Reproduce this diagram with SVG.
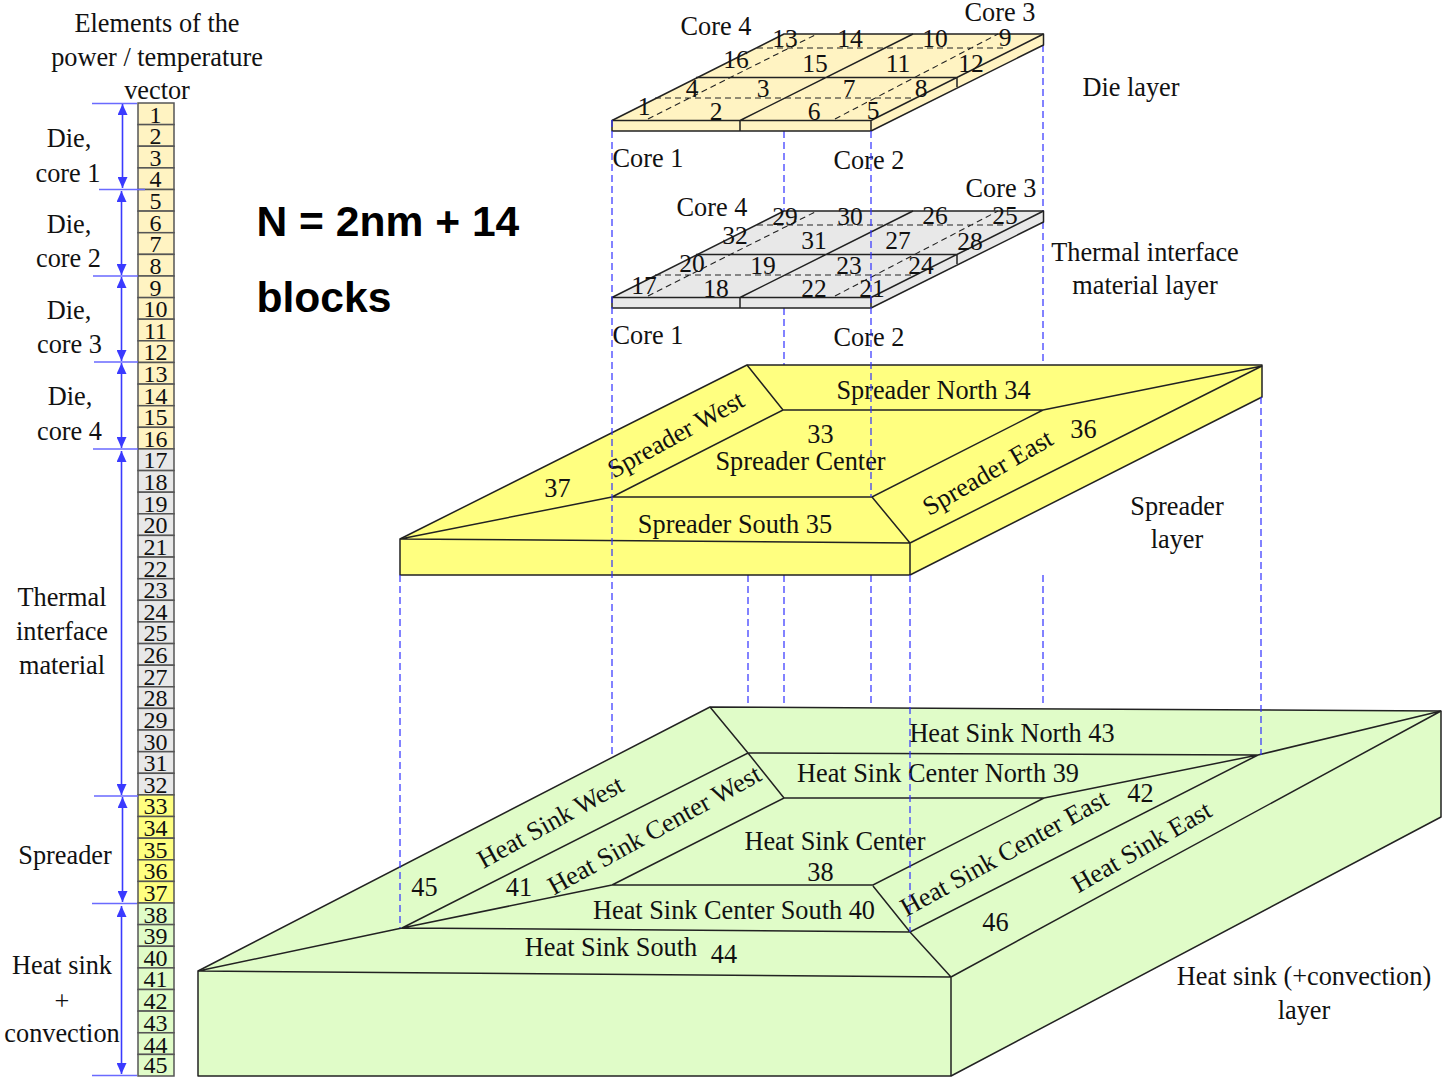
<svg xmlns="http://www.w3.org/2000/svg" width="1442" height="1078" viewBox="0 0 1442 1078">
<style>
text{font-family:"Liberation Serif","Times New Roman",serif;font-size:26.300px;fill:#111;text-anchor:middle}
.t{font-family:"Liberation Sans",Arial,sans-serif;font-size:42.600px;font-weight:bold;fill:#000;text-anchor:start}
.n{font-size:24px}
.p{font-size:25.500px}
.s{stroke:#222;stroke-width:1.5;stroke-linejoin:round}
.l{fill:none;stroke:#222;stroke-width:1.5}
.d{fill:none;stroke:#222;stroke-width:1.1;stroke-dasharray:6 4}
.b{fill:none;stroke:#3030ff;stroke-width:1.2;stroke-dasharray:7 4}
.a{stroke:#3a3aff;stroke-width:1.6;fill:none;marker-start:url(#au);marker-end:url(#ad)}
.k{stroke:#6a6aff;stroke-width:1.5;fill:none}
.die{fill:#fff3c2}.tim{fill:#e8e8e8}.spr{fill:#ffff80}.hs{fill:#e0fcc8}
.c{stroke:#555;stroke-width:1.5}
</style>
<defs>
<marker id="ad" markerUnits="userSpaceOnUse" markerWidth="10" markerHeight="11" refX="5" refY="11" orient="0"><path d="M0 0H10L5 11Z" fill="#3a3aff"/></marker>
<marker id="au" markerUnits="userSpaceOnUse" markerWidth="10" markerHeight="11" refX="5" refY="0" orient="0"><path d="M5 0L10 11H0Z" fill="#3a3aff"/></marker>
</defs>

<g id="title"><text class="t" x="256.500" y="236">N = 2nm + 14</text><text class="t" x="256.500" y="312">blocks</text></g>

<g id="vector">
<text x="157" y="32">Elements of the</text><text x="157" y="66">power / temperature</text><text x="157" y="99">vector</text>
<g class="c">
<rect class="die" x="138" y="103" width="36" height="21.6"/><rect class="die" x="138" y="124.6" width="36" height="21.6"/><rect class="die" x="138" y="146.2" width="36" height="21.6"/><rect class="die" x="138" y="167.9" width="36" height="21.6"/><rect class="die" x="138" y="189.5" width="36" height="21.6"/><rect class="die" x="138" y="211.1" width="36" height="21.6"/><rect class="die" x="138" y="232.7" width="36" height="21.6"/><rect class="die" x="138" y="254.4" width="36" height="21.6"/><rect class="die" x="138" y="276" width="36" height="21.6"/><rect class="die" x="138" y="297.6" width="36" height="21.6"/><rect class="die" x="138" y="319.2" width="36" height="21.6"/><rect class="die" x="138" y="340.8" width="36" height="21.6"/><rect class="die" x="138" y="362.5" width="36" height="21.6"/><rect class="die" x="138" y="384.1" width="36" height="21.6"/><rect class="die" x="138" y="405.7" width="36" height="21.6"/><rect class="die" x="138" y="427.3" width="36" height="21.6"/>
<rect class="tim" x="138" y="448.9" width="36" height="21.6"/><rect class="tim" x="138" y="470.6" width="36" height="21.6"/><rect class="tim" x="138" y="492.2" width="36" height="21.6"/><rect class="tim" x="138" y="513.8" width="36" height="21.6"/><rect class="tim" x="138" y="535.4" width="36" height="21.6"/><rect class="tim" x="138" y="557.1" width="36" height="21.6"/><rect class="tim" x="138" y="578.7" width="36" height="21.6"/><rect class="tim" x="138" y="600.3" width="36" height="21.6"/><rect class="tim" x="138" y="621.9" width="36" height="21.6"/><rect class="tim" x="138" y="643.6" width="36" height="21.6"/><rect class="tim" x="138" y="665.2" width="36" height="21.6"/><rect class="tim" x="138" y="686.8" width="36" height="21.6"/><rect class="tim" x="138" y="708.4" width="36" height="21.6"/><rect class="tim" x="138" y="730" width="36" height="21.6"/><rect class="tim" x="138" y="751.7" width="36" height="21.6"/><rect class="tim" x="138" y="773.3" width="36" height="21.6"/>
<rect class="spr" x="138" y="794.9" width="36" height="21.6"/><rect class="spr" x="138" y="816.5" width="36" height="21.6"/><rect class="spr" x="138" y="838.2" width="36" height="21.6"/><rect class="spr" x="138" y="859.8" width="36" height="21.6"/><rect class="spr" x="138" y="881.4" width="36" height="21.6"/>
<rect class="hs" x="138" y="903" width="36" height="21.6"/><rect class="hs" x="138" y="924.6" width="36" height="21.6"/><rect class="hs" x="138" y="946.3" width="36" height="21.6"/><rect class="hs" x="138" y="967.9" width="36" height="21.6"/><rect class="hs" x="138" y="989.5" width="36" height="21.6"/><rect class="hs" x="138" y="1011.1" width="36" height="21.6"/><rect class="hs" x="138" y="1032.8" width="36" height="21.6"/><rect class="hs" x="138" y="1054.4" width="36" height="21.6"/>
</g>
<g>
<text class="n" x="155.500" y="122.5">1</text><text class="n" x="155.500" y="144.1">2</text><text class="n" x="155.500" y="165.7">3</text><text class="n" x="155.500" y="187.4">4</text><text class="n" x="155.500" y="209">5</text><text class="n" x="155.500" y="230.6">6</text><text class="n" x="155.500" y="252.2">7</text><text class="n" x="155.500" y="273.9">8</text><text class="n" x="155.500" y="295.500">9</text><text class="n" x="155.500" y="317.1">10</text><text class="n" x="155.500" y="338.7">11</text><text class="n" x="155.500" y="360.3">12</text><text class="n" x="155.500" y="382">13</text><text class="n" x="155.500" y="403.6">14</text><text class="n" x="155.500" y="425.2">15</text><text class="n" x="155.500" y="446.8">16</text><text class="n" x="155.500" y="468.4">17</text><text class="n" x="155.500" y="490.1">18</text><text class="n" x="155.500" y="511.7">19</text><text class="n" x="155.500" y="533.3">20</text><text class="n" x="155.500" y="554.9">21</text><text class="n" x="155.500" y="576.6">22</text><text class="n" x="155.500" y="598.2">23</text><text class="n" x="155.500" y="619.8">24</text><text class="n" x="155.500" y="641.4">25</text><text class="n" x="155.500" y="663.1">26</text><text class="n" x="155.500" y="684.7">27</text><text class="n" x="155.500" y="706.3">28</text><text class="n" x="155.500" y="727.9">29</text><text class="n" x="155.500" y="749.5">30</text><text class="n" x="155.500" y="771.2">31</text><text class="n" x="155.500" y="792.8">32</text><text class="n" x="155.500" y="814.4">33</text><text class="n" x="155.500" y="836">34</text><text class="n" x="155.500" y="857.7">35</text><text class="n" x="155.500" y="879.3">36</text><text class="n" x="155.500" y="900.9">37</text><text class="n" x="155.500" y="922.5">38</text><text class="n" x="155.500" y="944.1">39</text><text class="n" x="155.500" y="965.8">40</text><text class="n" x="155.500" y="987.4">41</text><text class="n" x="155.500" y="1009">42</text><text class="n" x="155.500" y="1030.6">43</text><text class="n" x="155.500" y="1052.8">44</text><text class="n" x="155.500" y="1072.5">45</text>
</g>
<text x="69" y="147">Die,</text><text x="68" y="182">core 1</text>
<text x="69" y="233">Die,</text><text x="68.500" y="267">core 2</text>
<text x="69" y="319">Die,</text><text x="69.500" y="353">core 3</text>
<text x="70" y="405">Die,</text><text x="69.500" y="440">core 4</text>
<text x="62" y="606">Thermal</text><text x="62" y="640">interface</text><text x="62" y="674">material</text>
<text x="65" y="864">Spreader</text>
<text x="62" y="974">Heat sink</text><text x="62" y="1010">+</text><text x="62" y="1042">convection</text>
</g>

<g id="ranges">
<path class="k" d="M92 103.500H137M99 189.500H145M93 276H138M94 362H138M93 449H138M94 796H138M92 903.500H137M92 1075.500H137"/>
<path class="a" d="M122.500 104V188"/><path class="a" d="M121.500 191V275"/><path class="a" d="M121.500 277V361"/><path class="a" d="M121.500 363V448"/><path class="a" d="M121.500 451V795"/><path class="a" d="M122.500 797V902"/><path class="a" d="M121.500 906V1074"/>
</g>

<g id="connectors-back">
<path class="b" d="M784 131V211M784 308V365M1043 45V211M1043 222V410M748 575V707M784 575V707M871 575V707M1043 575V707"/>
</g>

<g id="heat-sink-layer">
<path class="hs s" d="M198 971L710 707L1441 711V817L951 1076H198Z"/>
<path class="l" d="M198 971L951 977V1076M951 977L1441 711M710 707L748 753M910 932L951 977M198 971L402 928M1258 755L1441 711M402 928L910 932L1258 755L748 753ZM402 928L612 885M784 798L748 753M873 886L910 932M1044 798L1258 755M612 885H873L1044 798H784Z"/>
<text x="1012" y="742">Heat Sink North 43</text>
<text x="938" y="782">Heat Sink Center North 39</text>
<text x="835" y="850">Heat Sink Center</text><text x="820.500" y="881">38</text>
<text x="734" y="919">Heat Sink Center South 40</text>
<text x="611" y="956">Heat Sink South</text><text x="724" y="963">44</text>
<text x="424.500" y="896">45</text><text x="519" y="896">41</text><text x="1140.500" y="802">42</text><text x="995.500" y="931">46</text>
<text transform="translate(554.500 829.500) rotate(-29)">Heat Sink West</text>
<text transform="translate(658.500 837.500) rotate(-29)">Heat Sink Center West</text>
<text transform="translate(1008.500 860.500) rotate(-29)">Heat Sink Center East</text>
<text transform="translate(1146 854.500) rotate(-30)">Heat Sink East</text>
</g>

<g id="spreader-layer">
<path class="spr s" d="M400 539L747 365H1262V397L910 575H400Z"/>
<path class="l" d="M400 539L910 543V575M910 543L1262 366M747 365L783 410M872 497L910 543M400 539L612 497M1043 410L1262 366M612 497H872L1043 410H783Z"/>
<text x="933.500" y="399">Spreader North 34</text>
<text x="820.500" y="443">33</text><text x="800.500" y="470">Spreader Center</text>
<text x="735" y="533">Spreader South 35</text>
<text x="557.500" y="497">37</text><text x="1083.500" y="438">36</text>
<text transform="translate(680 442) rotate(-29)">Spreader West</text>
<text transform="translate(992 480) rotate(-30)">Spreader East</text>
</g>

<g id="tim-layer">
<path class="tim s" d="M612 297.500L784 211H1043.500V222L871 308H612Z"/>
<path class="l" d="M612 297.500H871V308M740 297.500V308M871 297.500L1043.500 211M740 297.500L913 211M696 254.500H957L1043.500 211M957 254.500V264"/>
<path class="d" d="M655 275H915M757 225H1007M648 296L817 211M835 296L998 211"/>
<text class="p" x="785" y="225">29</text><text class="p" x="850" y="225">30</text><text class="p" x="935" y="224">26</text><text class="p" x="1005" y="224">25</text>
<text class="p" x="735" y="244">32</text><text class="p" x="814" y="249">31</text><text class="p" x="898" y="249">27</text><text class="p" x="970" y="250">28</text>
<text class="p" x="692" y="272">20</text><text class="p" x="763" y="274">19</text><text class="p" x="849" y="274">23</text><text class="p" x="921" y="274">24</text>
<text class="p" x="644" y="294">17</text><text class="p" x="716" y="297">18</text><text class="p" x="814" y="297">22</text><text class="p" x="872" y="297">21</text>
<text x="712" y="216">Core 4</text><text x="1001" y="197">Core 3</text>
<text x="648" y="344">Core 1</text><text x="869" y="346">Core 2</text>
</g>

<g id="die-layer">
<path class="die s" d="M612 120.500L784 34H1043.500V45L871 131H612Z"/>
<path class="l" d="M612 120.500H871V131M740 120.500V131M871 120.500L1043.500 34M740 120.500L913 34M696 77.500H957L1043.500 34M957 77.500V87"/>
<path class="d" d="M655 98H915M757 48H1007M648 119L817 34M835 119L998 34"/>
<text class="p" x="785" y="47">13</text><text class="p" x="850" y="47">14</text><text class="p" x="935" y="47">10</text><text class="p" x="1005" y="46">9</text>
<text class="p" x="736" y="68">16</text><text class="p" x="815" y="72">15</text><text class="p" x="898" y="72">11</text><text class="p" x="971" y="72">12</text>
<text class="p" x="692" y="97">4</text><text class="p" x="763" y="97">3</text><text class="p" x="849" y="97">7</text><text class="p" x="921" y="97">8</text>
<text class="p" x="644" y="115">1</text><text class="p" x="716" y="120">2</text><text class="p" x="814" y="120">6</text><text class="p" x="873" y="119">5</text>
<text x="716" y="35">Core 4</text><text x="1000" y="21">Core 3</text>
<text x="648" y="167">Core 1</text><text x="869" y="169">Core 2</text>
</g>

<g id="connectors">
<path class="b" d="M612 120V755M400 575V928M910 575V932M871 131V497M1261 397V755"/>
</g>

<g id="layer-labels">
<text x="1131" y="96">Die layer</text>
<text x="1145" y="261">Thermal interface</text><text x="1145" y="294">material layer</text>
<text x="1177" y="515">Spreader</text><text x="1177" y="548">layer</text>
<text x="1304" y="985">Heat sink (+convection)</text><text x="1304" y="1019">layer</text>
</g>
</svg>
